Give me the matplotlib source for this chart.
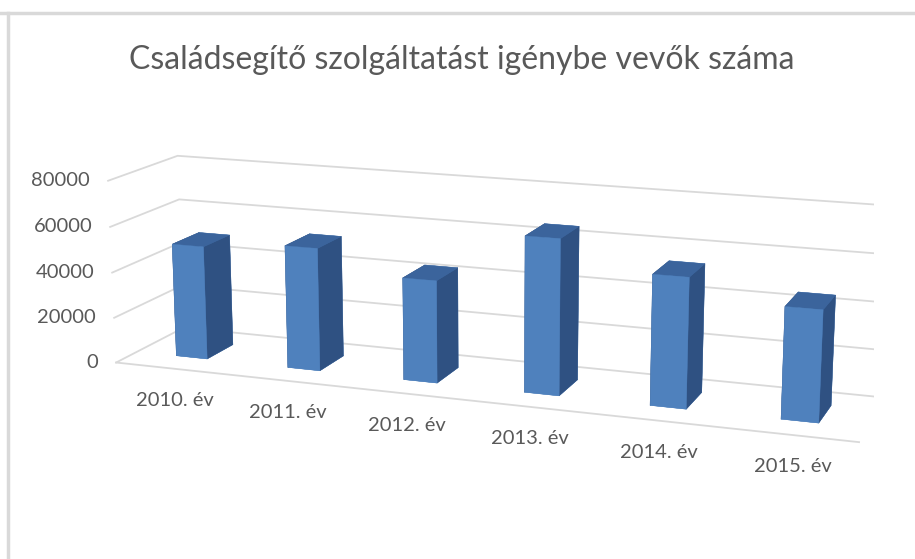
import matplotlib
matplotlib.use("Agg")
import matplotlib.pyplot as plt
from matplotlib.lines import Line2D
from matplotlib.text import Text
from mpl_toolkits.mplot3d import proj3d
import numpy as np

# ---- data ----
categories = ["2010. év", "2011. év", "2012. év", "2013. év", "2014. év", "2015. év"]
values = [50000, 53500, 44000, 66000, 54500, 46000]
zticks = [0, 20000, 40000, 60000, 80000]
zticklabels = ["0", "20000", "40000", "60000", "80000"]
title = "Családsegítő szolgáltatást igénybe vevők száma"

FONT = "Lato"
GRID = "#d9d9d9"
TXT = "#595959"
FRONT = "#4f81bd"
TOP = "#3b649c"
SIDE = "#2f5182"

plt.rcParams["font.family"] = [FONT, "DejaVu Sans"]

W, H = 915, 559
fig = plt.figure(figsize=(W / 100, H / 100), dpi=100)
fig.patch.set_facecolor("white")

side = 788
cx, cy = 480, 261  # axes centre in pixels from bottom-left
ax = fig.add_axes([(cx - side / 2) / W, (cy - side / 2) / H, side / W, side / H],
                  projection="3d")
ax.patch.set_alpha(0)
ax.set_proj_type("persp", focal_length=0.5)
ax.view_init(elev=14, azim=-70)
ax.set_box_aspect((6, 1.15, 1.49), zoom=1.0)
ax.computed_zorder = False

n = len(categories)
xs = np.arange(n)
x0, x1 = -0.5, n - 0.5
y0, y1 = 0.0, 1.0
bw = 0.28
depth_lo, depth_hi = 0.3, 0.7

# gridlines on the side wall and the back wall
for v in zticks:
    ax.plot([x0, x0, x1], [y0, y1, y1], [v, v, v], color=GRID, linewidth=1.3, zorder=1)
# front edge of the floor (category axis)
ax.plot([x0, x1], [y0, y0], [0, 0], color=GRID, linewidth=1.3, zorder=1)

for k, (xi, v) in enumerate(zip(xs, values)):
    # bottom, top, front(-y), back(+y), left(-x), right(+x)
    fc = [FRONT, TOP, FRONT, FRONT, SIDE, SIDE]
    ax.bar3d([xi - bw / 2], [depth_lo], [0], bw, depth_hi - depth_lo, [v],
             color=fc, shade=False, edgecolor=fc, linewidth=0.3, zorder=3 + k)

ax.set_xlim(x0, x1)
ax.set_ylim(y0, y1)
ax.set_zlim(0, 80000)
ax.set_axis_off()

for t in ax.findobj(Text):
    if t.get_text() == "":
        t.set_visible(False)

# settle the projection, then place the labels as plain 2D figure texts
fig.canvas.draw()
M = ax.get_proj()


def fig_pos(x, y, z, dx_px, dy_px):
    xp, yp, _ = proj3d.proj_transform(x, y, z, M)
    px, py = ax.transData.transform((xp, yp))
    return (px + dx_px) / W, (py + dy_px) / H


# value labels at the front-left edge of the side wall
for v, lab in zip(zticks, zticklabels):
    fx, fy = fig_pos(x0, y0, v, -18, 0)
    fig.text(fx, fy, lab, ha="right", va="center", fontsize=14.5, color=TXT)

# category labels below the front edge
for xi, lab in zip(xs, categories):
    fx, fy = fig_pos(xi, y0, 0, 3, -32)
    fig.text(fx, fy, lab, ha="center", va="center", fontsize=14.5, color=TXT)

fig.text(0.505, 1 - 60 / H, title, ha="center", va="center", fontsize=23, color=TXT)

# outer frame (top and left edges)
fig.add_artist(Line2D([0, 1], [1 - 13 / H, 1 - 13 / H], transform=fig.transFigure,
                      color=GRID, linewidth=2.5))
fig.add_artist(Line2D([8 / W, 8 / W], [0, 1 - 13 / H], transform=fig.transFigure,
                      color=GRID, linewidth=2.5))

fig.savefig("out.png", dpi=100, facecolor="white")
